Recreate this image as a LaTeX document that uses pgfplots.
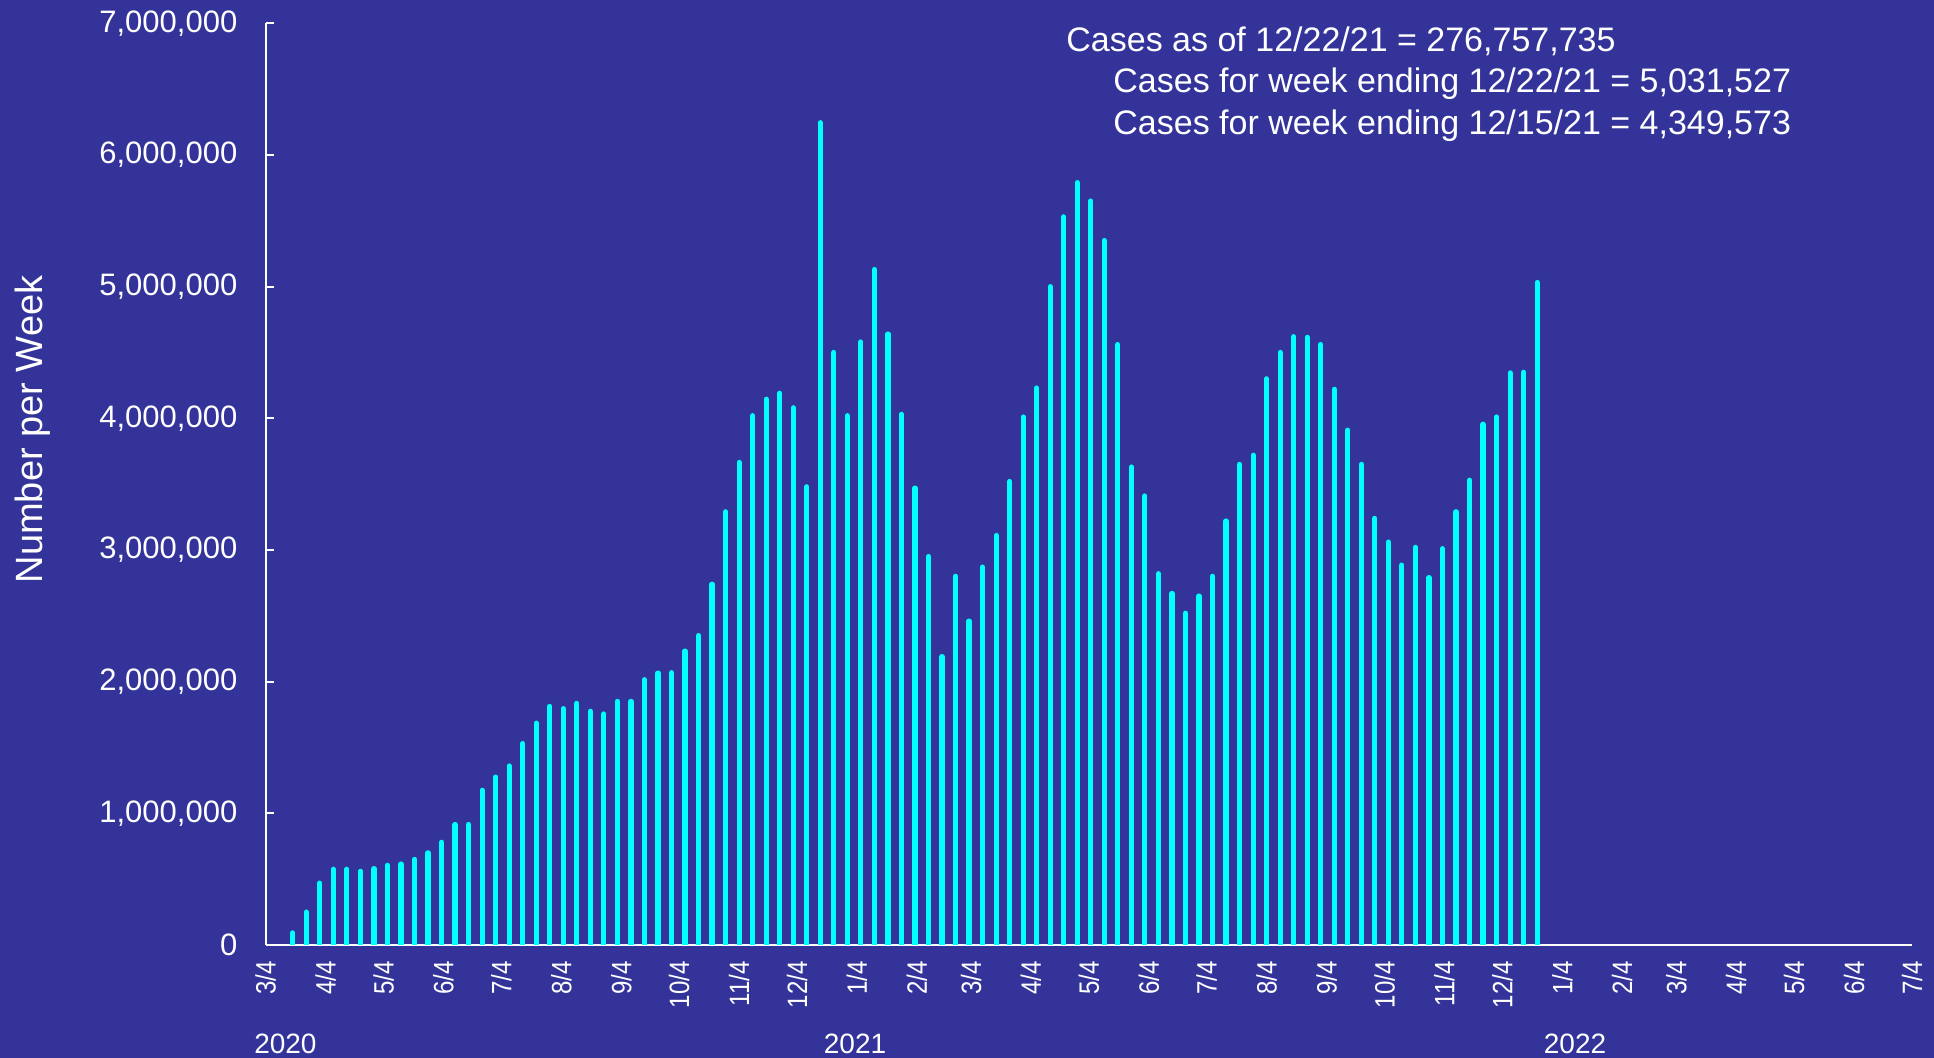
\documentclass[border=0pt]{standalone}
\usepackage{fontspec}
\setmainfont{Liberation Sans}
\newfontfamily\narrowfont[FakeStretch=0.86]{Liberation Sans}
\usepackage{pgfplots}
\pgfplotsset{compat=1.18}
\usepackage{pgfplotstable}

\definecolor{bgblue}{HTML}{333399}
\definecolor{barcyan}{HTML}{00FFFF}

% weekly cases; day = days since 3/4/2020 (week ending)
\pgfplotstableread{
day cases
14  92000
21  250000
28  470000
35  575000
42  575000
49  560000
56  580000
63  605000
70  615000
77  650000
84  700000
91  780000
98  915000
105 915000
112 1175000
119 1275000
126 1360000
133 1530000
140 1685000
147 1812000
154 1795000
161 1835000
168 1775000
175 1755000
182 1850000
189 1850000
196 2015000
203 2065000
210 2068000
217 2232000
224 2350000
231 2740000
238 3290000
245 3665000
252 4020000
259 4145000
266 4190000
273 4080000
280 3480000
287 6245000
294 4500000
301 4020000
308 4580000
315 5130000
322 4640000
329 4030000
336 3470000
343 2950000
350 2190000
357 2800000
364 2460000
371 2870000
378 3110000
385 3520000
392 4010000
399 4230000
406 5000000
413 5530000
420 5790000
427 5650000
434 5350000
441 4560000
448 3630000
455 3410000
462 2820000
469 2670000
476 2520000
483 2650000
490 2800000
497 3220000
504 3650000
511 3720000
518 4300000
525 4500000
532 4620000
539 4615000
546 4560000
553 4220000
560 3910000
567 3650000
574 3240000
581 3060000
588 2885000
595 3020000
602 2790000
609 3010000
616 3290000
623 3530000
630 3955000
637 4010000
644 4345000
651 4349573
658 5031527
}\weekly

\begin{document}
\begin{tikzpicture}[x=1pt,y=1pt]
\fill[bgblue] (0,0) rectangle (967,529);
\useasboundingbox (0,0) rectangle (967,529);
\begin{axis}[
    at={(132.85pt,56.5pt)}, anchor=south west,
    scale only axis,
    width=823.15pt, height=460.85pt,
    xmin=0, xmax=852,
    ymin=0, ymax=7000000,
    axis x line=bottom, axis y line=left,
    axis line style={white, line width=0.9pt, -},
    tick align=inside,
    major tick length=4pt,
    tick style={white, line width=0.9pt},
    xtick={0,31,61,92,122,153,184,214,245,275,306,337,365,396,426,457,487,518,549,579,610,640,671,702,730,761,791,822,852},
    xticklabels={3/4,4/4,5/4,6/4,7/4,8/4,9/4,10/4,11/4,12/4,1/4,2/4,3/4,4/4,5/4,6/4,7/4,8/4,9/4,10/4,11/4,12/4,1/4,2/4,3/4,4/4,5/4,6/4,7/4},
    xtick style={draw=none},
    xticklabel style={yshift=-8pt, rotate=90, anchor=east, inner sep=0pt, white, font=\narrowfont\fontsize{14}{16}\selectfont},
    ytick={0,1000000,2000000,3000000,4000000,5000000,6000000,7000000},
    scaled y ticks=false,
    yticklabel style={/pgf/number format/.cd, fixed, 1000 sep={,}, assume math mode=true, /tikz/.cd,
        anchor=east, xshift=-14pt, inner sep=0pt, white, font=\fontsize{15.5}{17}\selectfont},
    clip mode=individual,
]
\addplot[ycomb, draw=barcyan, line width=2.6pt, line cap=round, mark=none] table[x=day, y=cases] {\weekly};
\node[white, anchor=base, font=\fontsize{14}{16}\selectfont] at (axis cs:10.2,0) [yshift=-54.5pt] {2020};
\node[white, anchor=base, font=\fontsize{14}{16}\selectfont] at (axis cs:305,0) [yshift=-54.5pt] {2021};
\node[white, anchor=base, font=\fontsize{14}{16}\selectfont] at (axis cs:677.6,0) [yshift=-54.5pt] {2022};
\end{axis}
\node[white, rotate=90, anchor=base, font=\fontsize{19}{21}\selectfont] at (21,314.25) {Number per Week};
\begin{scope}[every node/.style={white, anchor=base west, inner sep=0pt, font=\fontsize{17}{19}\selectfont}]
\node at (533,503.15) {Cases as of 12/22/21 = 276,757,735};
\node at (556.5,482.65) {Cases for week ending 12/22/21 = 5,031,527};
\node at (556.5,461.5) {Cases for week ending 12/15/21 = 4,349,573};
\end{scope}
\end{tikzpicture}
\end{document}
